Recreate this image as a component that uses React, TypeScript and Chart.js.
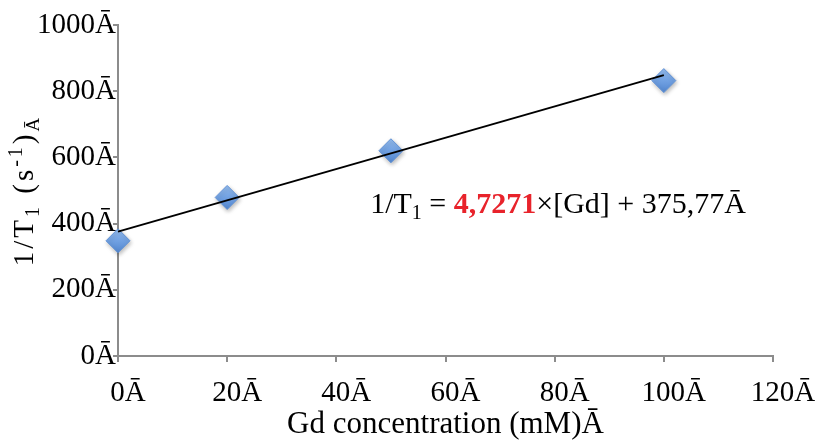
import React, { useEffect, useRef } from 'react';
import { Chart, registerables } from 'chart.js';

Chart.register(...registerables);

// ---- data ----
const concentrations = [0, 20, 50, 100];
const relaxationRates = [348, 479, 620, 832];
const trendSlope = 4.7271;
const trendIntercept = 375.77;
const trendX = [0, 100];
const xTickValues = [0, 20, 40, 60, 80, 100, 120];
const yTickValues = [0, 200, 400, 600, 800, 1000];
const SUFFIX = 'Ā';
const xTitle = 'Gd concentration (mM)' + SUFFIX;
// equation anchor in data units
const eqAnchorX = 46.2;
const eqAnchorY = 432;

const FONT = '"Liberation Serif", "Times New Roman", serif';

type Run = { text: string; size: number; dy?: number; bold?: boolean; color?: string };

function runFont(r: Run) {
  return `${r.bold ? 'bold ' : ''}${r.size}px ${FONT}`;
}

function measureRuns(ctx: CanvasRenderingContext2D, runs: Run[], spacing: number) {
  let w = 0;
  for (const r of runs) {
    ctx.font = runFont(r);
    for (const ch of r.text) w += ctx.measureText(ch).width + spacing;
  }
  return w;
}

function drawRuns(ctx: CanvasRenderingContext2D, runs: Run[], x: number, y: number, spacing: number) {
  let cx = x;
  for (const r of runs) {
    ctx.font = runFont(r);
    ctx.fillStyle = r.color || '#000';
    if (spacing === 0) {
      ctx.fillText(r.text, cx, y + (r.dy || 0));
      cx += ctx.measureText(r.text).width;
    } else {
      for (const ch of r.text) {
        ctx.fillText(ch, cx, y + (r.dy || 0));
        cx += ctx.measureText(ch).width + spacing;
      }
    }
  }
}

const textPlugin = {
  id: 'customText',
  afterDraw(chart: any) {
    const ctx: CanvasRenderingContext2D = chart.ctx;
    const area = chart.chartArea;
    ctx.save();
    ctx.textBaseline = 'alphabetic';
    ctx.textAlign = 'left';
    // y-axis title
    const yRuns: Run[] = [
      { text: '1/T', size: 29 },
      { text: '1', size: 20, dy: 6 },
      { text: ' (s', size: 29 },
      { text: '-1', size: 20, dy: -11 },
      { text: ')', size: 29 },
      { text: SUFFIX, size: 19, dy: 6 },
    ];
    const spacing = 3;
    const total = measureRuns(ctx, yRuns, spacing);
    ctx.save();
    ctx.translate(33, (area.top + area.bottom) / 2);
    ctx.rotate(-Math.PI / 2);
    drawRuns(ctx, yRuns, -total / 2, 0, spacing);
    ctx.restore();

    // equation
    const ex = chart.scales.x.getPixelForValue(eqAnchorX);
    const ey = chart.scales.y.getPixelForValue(eqAnchorY);
    const slopeText = String(trendSlope).replace('.', ',');
    const interceptText = String(trendIntercept).replace('.', ',');
    const eqRuns: Run[] = [
      { text: '1/T', size: 30 },
      { text: '1', size: 20, dy: 6 },
      { text: ' = ', size: 30 },
      { text: slopeText, size: 30, bold: true, color: '#e8232b' },
      { text: '×[Gd] + ' + interceptText + SUFFIX, size: 30 },
    ];
    drawRuns(ctx, eqRuns, ex, ey, 0);
    ctx.restore();
  },
};

const shadowPlugin = {
  id: 'markerShadow',
  beforeDatasetDraw(chart: any, args: any) {
    if (args.index === 1) {
      const ctx = chart.ctx;
      ctx.save();
      ctx.shadowColor = 'rgba(0,0,0,0.28)';
      ctx.shadowBlur = 4;
      ctx.shadowOffsetX = 1;
      ctx.shadowOffsetY = 2;
    }
  },
  afterDatasetDraw(chart: any, args: any) {
    if (args.index === 1) chart.ctx.restore();
  },
};

export default function App() {
  const ref = useRef<HTMLCanvasElement>(null);

  useEffect(() => {
    const canvas = ref.current!;
    const axisColor = '#8c8c8c';

    const chart = new Chart(canvas, {
      type: 'scatter',
      data: {
        datasets: [
          {
            type: 'line',
            label: 'trend',
            data: trendX.map((x) => ({ x, y: trendSlope * x + trendIntercept })),
            borderColor: '#000',
            borderWidth: 2,
            pointRadius: 0,
            showLine: true,
            fill: false,
            order: 0,
            clip: false,
          } as any,
          {
            type: 'scatter',
            label: 'data',
            data: concentrations.map((x, i) => ({ x, y: relaxationRates[i] })),
            pointStyle: 'rectRot',
            pointRadius: 12,
            pointHoverRadius: 12,
            backgroundColor: (c: any) => {
              const ch = c.chart;
              const fallback = '#6b9de0';
              if (!ch || !ch.scales || !ch.scales.y || !c.raw) return fallback;
              const py = ch.scales.y.getPixelForValue(c.raw.y);
              if (!Number.isFinite(py)) return fallback;
              const g = ch.ctx.createLinearGradient(0, py - 12, 0, py + 12);
              g.addColorStop(0, '#94bcee');
              g.addColorStop(0.5, '#71a1e2');
              g.addColorStop(1, '#5387d0');
              return g;
            },
            borderColor: '#6192d6',
            borderWidth: 1,
            order: 1,
            clip: false,
          } as any,
        ],
      },
      options: {
        responsive: false,
        animation: false,
        devicePixelRatio: 1,
        layout: { padding: { top: 25, right: 49, left: 0, bottom: 0 } },
        plugins: { legend: { display: false }, tooltip: { enabled: false } },
        events: [],
        scales: {
          x: {
            type: 'linear',
            min: 0,
            max: 120,
            afterBuildTicks: (s: any) => {
              s.ticks = xTickValues.map((v) => ({ value: v }));
            },
            afterFit: (s: any) => {
              s.height = 85;
            },
            grid: {
              display: true,
              drawOnChartArea: false,
              drawTicks: true,
              tickLength: 6,
              color: axisColor,
              lineWidth: 2,
            },
            border: { display: true, color: axisColor, width: 2 },
            ticks: {
              font: { family: FONT, size: 29 },
              color: '#000',
              padding: 14,
              labelOffset: 10,
              maxRotation: 0,
              autoSkip: false,
              callback: (v: any) => v + SUFFIX,
            },
            title: {
              display: true,
              text: xTitle,
              color: '#000',
              font: { family: FONT, size: 31, lineHeight: 1.05 },
              padding: { top: 0, bottom: 0 },
            },
          },
          y: {
            type: 'linear',
            min: 0,
            max: 1000,
            afterBuildTicks: (s: any) => {
              s.ticks = yTickValues.map((v) => ({ value: v }));
            },
            afterFit: (s: any) => {
              s.width = 118;
            },
            grid: {
              display: true,
              drawOnChartArea: false,
              drawTicks: true,
              tickLength: 5,
              color: axisColor,
              lineWidth: 2,
            },
            border: { display: true, color: axisColor, width: 2 },
            ticks: {
              font: { family: FONT, size: 29 },
              color: '#000',
              padding: -3,
              autoSkip: false,
              callback: (v: any) => v + SUFFIX,
            },
            title: { display: false },
          },
        },
      },
      plugins: [shadowPlugin, textPlugin],
    } as any);

    return () => chart.destroy();
  }, []);

  return (
    <div style={{ position: 'fixed', left: 0, top: 0, width: 822, height: 441, background: '#fff' }}>
      <canvas ref={ref} width={822} height={441} style={{ display: 'block', width: 822, height: 441 }} />
    </div>
  );
}
